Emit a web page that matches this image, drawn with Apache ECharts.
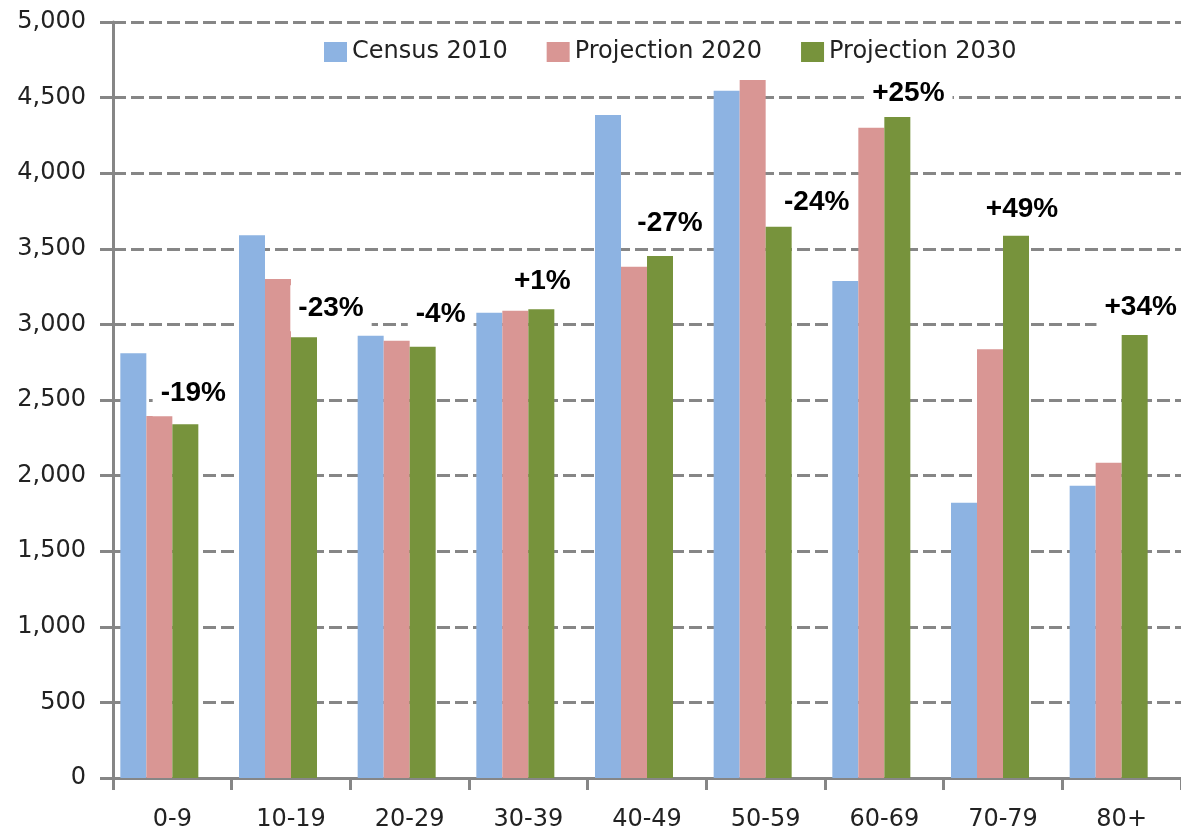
<!DOCTYPE html>
<html>
<head>
<meta charset="utf-8">
<style>
    html, body { margin: 0; padding: 0; background: #fff; }
    #chart { width: 1181px; height: 834px; }
</style>
<script src="https://cdn.jsdelivr.net/npm/echarts@6/dist/echarts.min.js"></script>
</head>
<body>
<div id="chart"></div>
<script type="text/javascript">
    var ageGroups = ['0-9', '10-19', '20-29', '30-39', '40-49', '50-59', '60-69', '70-79', '80+'];
    var census2010 = [2810, 3590, 2925, 3077, 4385, 4546, 3287, 1821, 1933];
    var proj2020 = [2395, 3300, 2892, 3091, 3382, 4616, 4301, 2835, 2085];
    var proj2030 = [2340, 2915, 2853, 3100, 3452, 3646, 4372, 3587, 2930];
    var changeLabels = ['-19%', '-23%', '-4%', '+1%', '-27%', '-24%', '+25%', '+49%', '+34%'];

    // where each change label sits, relative to the top of the 2030 bar
    var labelShift = [[8, -31], [27, -29], [18, -32], [1, -28], [10, -33], [38, -24], [11, -24], [6, -26], [6, -28]];

    var gridColor = '#868686';
    var font = 'DejaVu Sans';

    var chart = echarts.init(document.getElementById('chart'));

    var option = {
        animation: false,
        grid: { left: 113, top: 22, width: 1071, height: 756 },
        legend: {
            data: ['Census 2010', 'Projection 2020', 'Projection 2030'],
            left: 319,
            top: 35,
            icon: 'rect',
            itemWidth: 23,
            itemHeight: 20,
            itemGap: 39,
            textStyle: { fontFamily: font, fontSize: 24, color: '#222' }
        },
        xAxis: {
            type: 'category',
            data: ageGroups,
            axisLine: { lineStyle: { color: gridColor, width: 3 } },
            axisTick: { show: true, length: 12, lineStyle: { color: gridColor, width: 3 } },
            axisLabel: { fontFamily: font, fontSize: 24, color: '#222', margin: 30 }
        },
        yAxis: {
            type: 'value',
            min: 0,
            max: 5000,
            interval: 500,
            axisLine: { show: true, lineStyle: { color: gridColor, width: 3 } },
            axisTick: { show: true, length: 13, lineStyle: { color: gridColor, width: 3 } },
            axisLabel: {
                fontFamily: font, fontSize: 24, color: '#222', margin: 27,
                formatter: function (v) { return echarts.format.addCommas(v); }
            },
            splitLine: { lineStyle: { color: gridColor, width: 3, type: [13, 5] } }
        },
        series: [
            {
                name: 'Census 2010', type: 'bar', data: census2010,
                barWidth: 26, barGap: '0%',
                itemStyle: { color: '#8DB3E2' }
            },
            {
                name: 'Projection 2020', type: 'bar', data: proj2020,
                barWidth: 26, barGap: '0%',
                itemStyle: { color: '#D99694' }
            },
            {
                name: 'Projection 2030', type: 'bar', barWidth: 26, barGap: '0%',
                itemStyle: { color: '#77933C' },
                data: proj2030.map(function (v, i) {
                    return {
                        value: v,
                        label: {
                            show: true,
                            position: 'top',
                            distance: 0,
                            align: 'center',
                            verticalAlign: 'middle',
                            offset: labelShift[i],
                            formatter: changeLabels[i],
                            fontFamily: 'Liberation Sans',
                            fontWeight: 'bold',
                            fontSize: 28,
                            lineHeight: 28,
                            color: '#000',
                            backgroundColor: '#fff',
                            padding: [9, 8]
                        }
                    };
                })
            },
            {
                // empty slot, keeps the three bars left of the category centre as in the original
                name: 'spacer', type: 'bar', barWidth: 26, barGap: '0%',
                data: ageGroups.map(function () { return null; })
            }
        ]
    };

    chart.setOption(option);
</script>
</body>
</html>
